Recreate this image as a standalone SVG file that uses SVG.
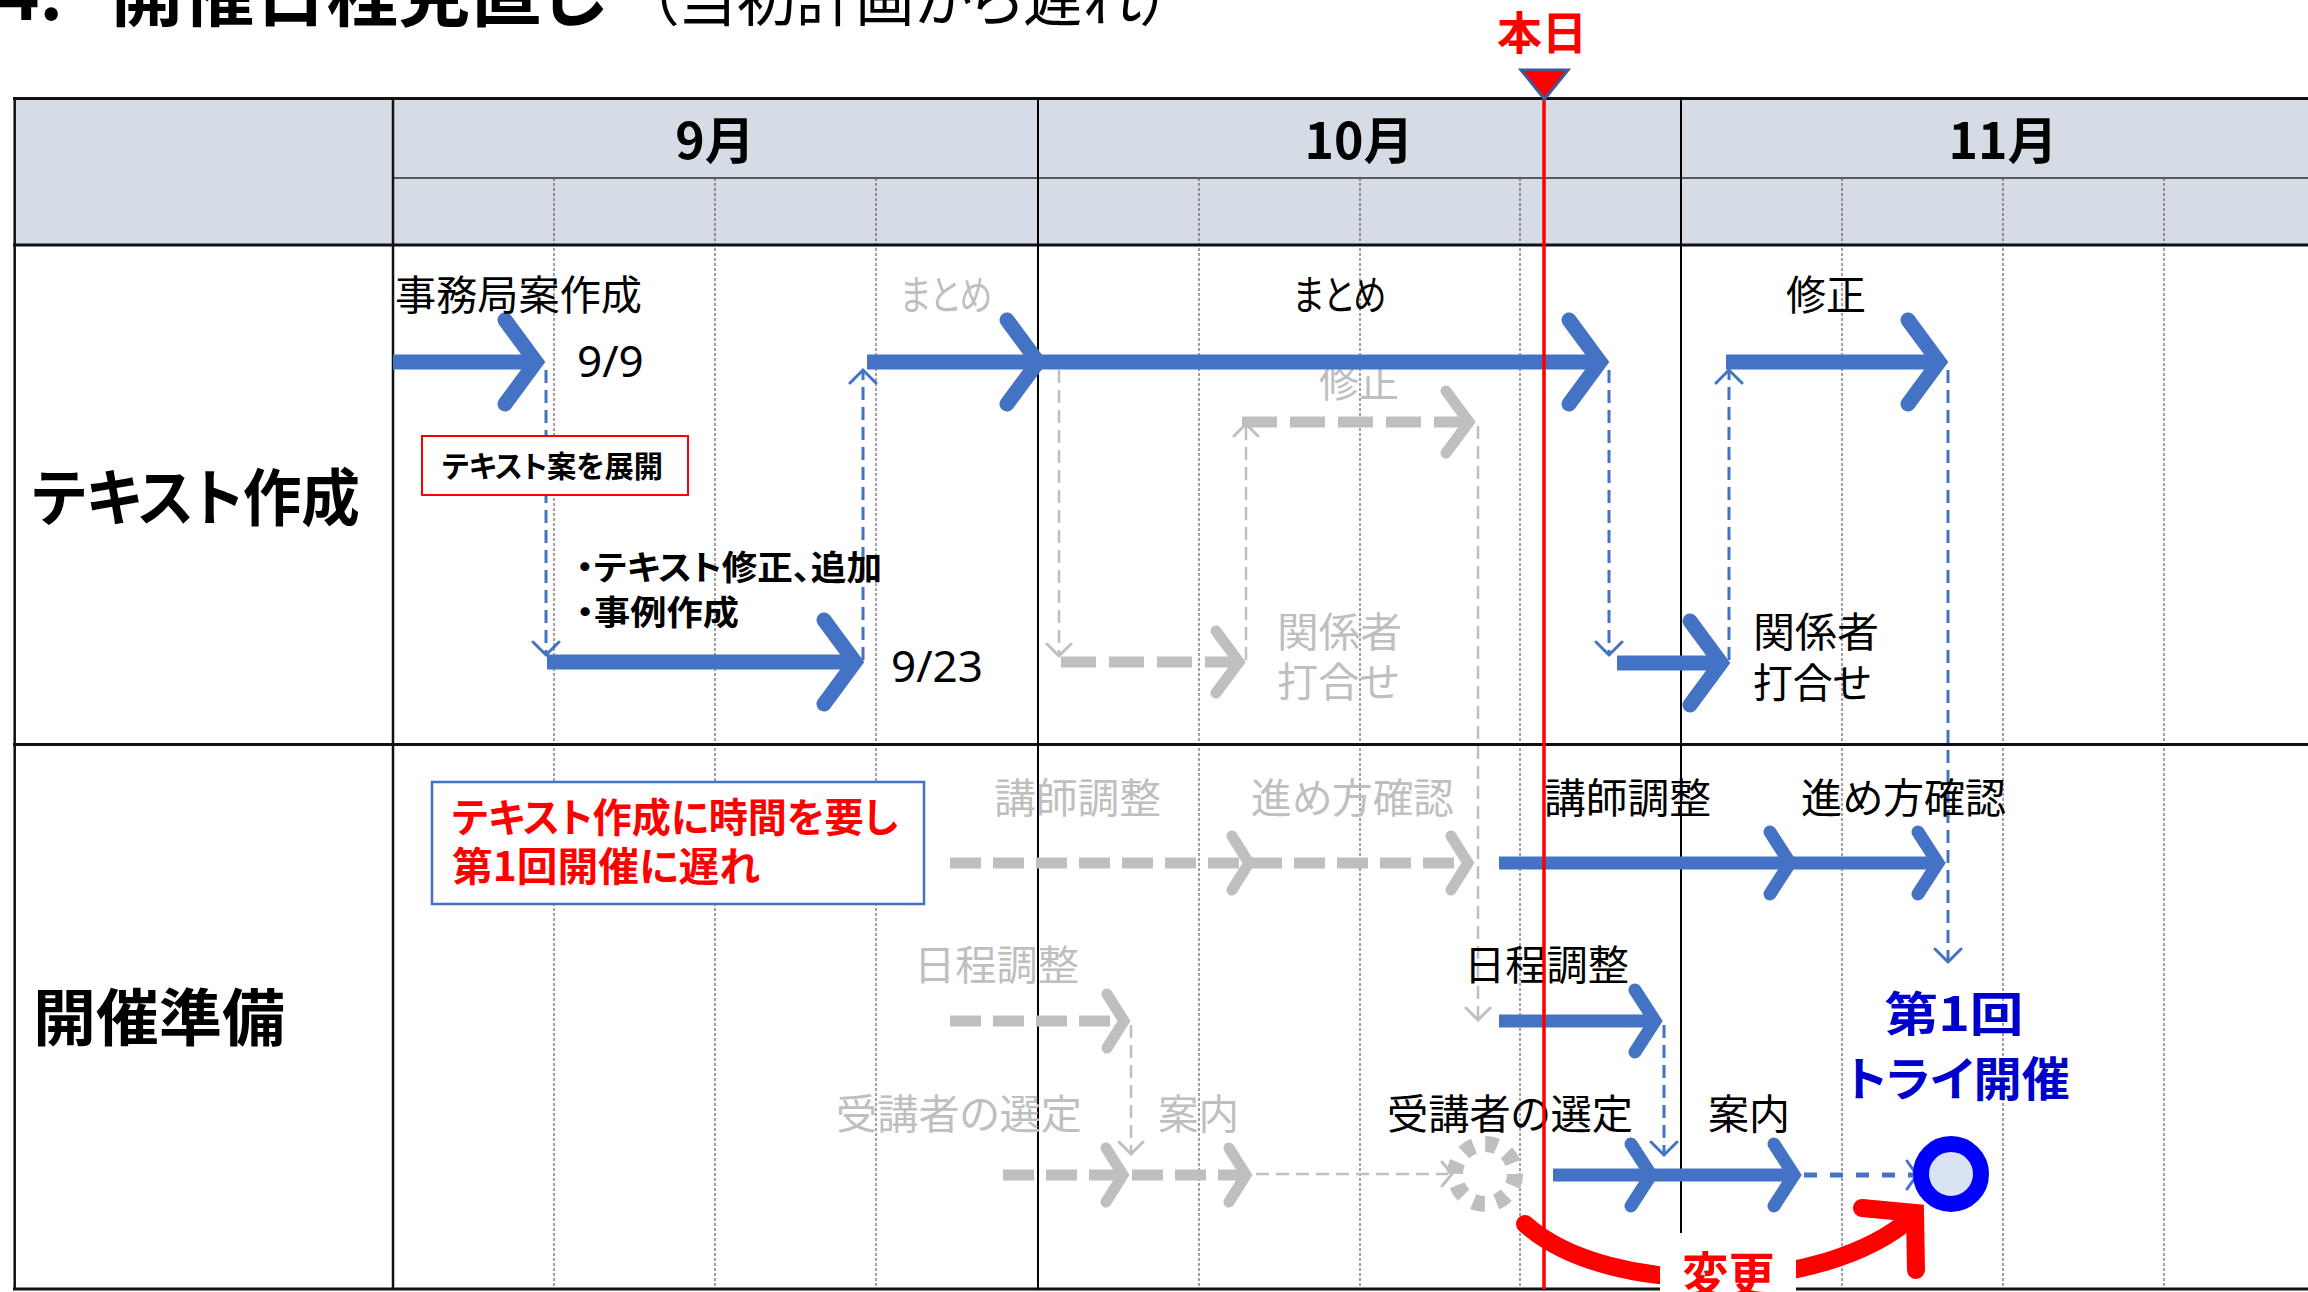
<svg xmlns="http://www.w3.org/2000/svg" width="2308" height="1292" viewBox="0 0 2308 1292">
<style>
.t{font-family:"Noto Sans CJK JP","Noto Sans",sans-serif;font-feature-settings:"palt" 1;}
.n{font-family:"Noto Sans","Noto Sans CJK JP",sans-serif;}
.b{font-weight:700;}
.k{fill:#000;}
.g{fill:#BFBFBF;}
.s41{font-size:41px;}
.wk{stroke:#404040;stroke-width:1;stroke-dasharray:3 2;fill:none;}
.bl{stroke:#4472C4;fill:none;}
.gr{stroke:#BFBFBF;fill:none;}
.ch{stroke-linejoin:miter;stroke-linecap:round;}
.w1{stroke-width:15;}
.w2{stroke-width:13;}
.wg{stroke-width:11;}
.thin{stroke-width:3;stroke-dasharray:13 7;}
.gthin{stroke-width:2.5;stroke-dasharray:13 7;}
.hd{stroke-width:3;stroke-linecap:round;stroke-linejoin:miter;}
</style>
<rect width="2308" height="1292" fill="#fff"/>
<g id="title">
<text class="t b k" x="-3" y="20" font-size="72">4.</text>
<text class="t b k" x="111" y="20" font-size="72" textLength="494" lengthAdjust="spacingAndGlyphs">開催日程見直し</text>
<text class="t k" x="648" y="21" font-size="60" textLength="523" lengthAdjust="spacingAndGlyphs">（当初計画から遅れ）</text>
</g>
<g id="table">
<rect x="14.7" y="98.5" width="2300" height="146.5" fill="#D6DCE5"/>
<g class="wk">
<path d="M554,178V1289M715,178V1289M876,178V1289M1199,178V1289M1360,178V1289M1520,178V1289M1842,178V1289M2003,178V1289M2164,178V1289"/>
</g>
<path d="M393,178H2308" stroke="#595959" stroke-width="2"/>
<path d="M13,98.5H2308M13,245H2308M13,744.5H2308M13,1289H2308" stroke="#111" stroke-width="3"/>
<path d="M14.7,97V1290M393,97V1290" stroke="#111" stroke-width="2.5"/>
<path d="M1038,98V1289M1681,98V1289" stroke="#000" stroke-width="2"/>
<text class="t b k" x="715" y="159" font-size="50" text-anchor="middle">9月</text>
<text class="t b k" x="1359" y="159" font-size="50" text-anchor="middle">10月</text>
<text class="t b k" x="2003" y="159" font-size="50" text-anchor="middle">11月</text>
<text class="t b k" x="32" y="521" font-size="62" textLength="328" lengthAdjust="spacingAndGlyphs">テキスト作成</text>
<text class="t b k" x="33" y="1041" font-size="62" textLength="252" lengthAdjust="spacingAndGlyphs">開催準備</text>
</g>
<g id="plan-original">
<text class="t s41 g" x="900" y="310" textLength="92" lengthAdjust="spacingAndGlyphs">まとめ</text>
<text class="t s41 g" x="1319" y="397" textLength="80" lengthAdjust="spacingAndGlyphs">修正</text>
<text class="t s41 g" x="1277" y="647" textLength="125" lengthAdjust="spacingAndGlyphs">関係者</text>
<text class="t s41 g" x="1277" y="697" textLength="122" lengthAdjust="spacingAndGlyphs">打合せ</text>
<text class="t s41 g" x="994" y="813" textLength="167" lengthAdjust="spacingAndGlyphs">講師調整</text>
<text class="t s41 g" x="1251" y="813" textLength="203" lengthAdjust="spacingAndGlyphs">進め方確認</text>
<text class="t s41 g" x="914" y="980" textLength="165" lengthAdjust="spacingAndGlyphs">日程調整</text>
<text class="t s41 g" x="836" y="1129" textLength="246" lengthAdjust="spacingAndGlyphs">受講者の選定</text>
<text class="t s41 g" x="1158" y="1129" textLength="81" lengthAdjust="spacingAndGlyphs">案内</text>
</g>
<g id="connectors">
<g class="gr">
<path class="gthin" d="M1059,370V654M1246,660V426M1478,426V1018M1131,1025V1152M1256,1174H1448"/>
<path class="hd" stroke-width="2.5" d="M1047,644L1059,656L1071,644M1234,436L1246,424L1258,436M1466,1008L1478,1020L1490,1008M1119,1142L1131,1154L1143,1142M1442,1162L1452,1174L1442,1186"/>
<path class="wg" stroke-dasharray="35 13" d="M1061,662H1236M1242,422H1466"/>
<path class="wg ch" d="M1216,631L1239,662L1216,693M1446,391L1469,422L1446,453"/>
<path class="wg" stroke-dasharray="31 12" d="M950,863H1466M950,1021H1122M1003,1175H1244"/>
<path class="wg ch" d="M1232,836L1249,863L1232,890M1451,836L1468,863L1451,890M1107,994L1124,1021L1107,1048M1106,1148L1123,1175L1106,1202M1229,1148L1246,1175L1229,1202"/>
<circle cx="1485" cy="1174" r="30" stroke-width="16" stroke-dasharray="12 11.56"/>
</g>
<g class="bl">
<path class="thin" d="M546,370V654M863,660V372M1609,370V654M1729,660V372M1948,370V960M1664,1025V1153"/>
<path class="hd" d="M533,642L546,655L559,642M850,383L863,370L876,383M1596,642L1609,655L1622,642M1716,383L1729,370L1742,383M1935,949L1948,962L1961,949M1651,1142L1664,1155L1677,1142"/>
<path stroke-width="5" stroke-dasharray="13 13" d="M1804,1175H1913"/>
<path class="hd" stroke-width="4" d="M1907,1161L1917,1175L1907,1189"/>
<path class="w1" d="M393,362H533M547,662H852M867,362H1597M1617,663H1718M1726,362H1936"/>
<path class="w1 ch" d="M505,320L536,362L505,404M824,620L855,662L824,704M1007,320L1038,362L1007,404M1569,320L1600,362L1569,404M1690,621L1721,663L1690,705M1908,320L1939,362L1908,404"/>
<path class="w2" d="M1499,863H1936M1499,1021H1653M1553,1175H1792"/>
<path class="w2 ch" d="M1770,832L1790,863L1770,894M1918,832L1938,863L1918,894M1635,990L1655,1021L1635,1052M1631,1144L1651,1175L1631,1206M1774,1144L1794,1175L1774,1206"/>
</g>
</g>
<g id="labels-actual">
<text class="t s41 k" x="395" y="310" textLength="247" lengthAdjust="spacingAndGlyphs">事務局案作成</text>
<text class="n k" x="577" y="377" font-size="44">9/9</text>
<text class="n k" x="891" y="682" font-size="44">9/23</text>
<text class="t b k" x="576" y="580" font-size="34" textLength="306" lengthAdjust="spacingAndGlyphs">・テキスト修正、追加</text>
<text class="t b k" x="576" y="625" font-size="34" textLength="163" lengthAdjust="spacingAndGlyphs">・事例作成</text>
<text class="t s41 k" x="1293" y="310" textLength="93" lengthAdjust="spacingAndGlyphs">まとめ</text>
<text class="t s41 k" x="1786" y="310" textLength="80" lengthAdjust="spacingAndGlyphs">修正</text>
<text class="t s41 k" x="1753" y="647" textLength="126" lengthAdjust="spacingAndGlyphs">関係者</text>
<text class="t s41 k" x="1753" y="698" textLength="118" lengthAdjust="spacingAndGlyphs">打合せ</text>
<text class="t s41 k" x="1544" y="813" textLength="167" lengthAdjust="spacingAndGlyphs">講師調整</text>
<text class="t s41 k" x="1801" y="813" textLength="205" lengthAdjust="spacingAndGlyphs">進め方確認</text>
<text class="t s41 k" x="1464" y="980" textLength="165" lengthAdjust="spacingAndGlyphs">日程調整</text>
<text class="t s41 k" x="1387" y="1129" textLength="246" lengthAdjust="spacingAndGlyphs">受講者の選定</text>
<text class="t s41 k" x="1708" y="1129" textLength="82" lengthAdjust="spacingAndGlyphs">案内</text>
</g>
<g id="note-expand">
<rect x="422" y="436" width="266" height="59" fill="#fff" stroke="#FF0000" stroke-width="2"/>
<text class="t b k" x="442" y="477" font-size="30" textLength="221" lengthAdjust="spacingAndGlyphs">テキスト案を展開</text>
</g>
<g id="note-delay">
<rect x="432" y="782" width="492" height="122" fill="#fff" stroke="#4472C4" stroke-width="2.5"/>
<text class="t b" fill="#FF0000" x="452" y="832" font-size="40" textLength="446" lengthAdjust="spacingAndGlyphs">テキスト作成に時間を要し</text>
<text class="t b" fill="#FF0000" x="452" y="881" font-size="40" textLength="308" lengthAdjust="spacingAndGlyphs">第1回開催に遅れ</text>
</g>
<g id="milestone">
<circle cx="1951" cy="1174" r="30" fill="#DAE3F3" stroke="#0000FF" stroke-width="16"/>
<text class="t b" fill="#0000CC" x="1954" y="1031" font-size="47" text-anchor="middle" textLength="139" lengthAdjust="spacingAndGlyphs">第1回</text>
<text class="t b" fill="#0000CC" x="1958" y="1096" font-size="47" text-anchor="middle" textLength="224" lengthAdjust="spacingAndGlyphs">トライ開催</text>
</g>
<g id="today">
<path d="M1544,99V1289" stroke="#FF0000" stroke-width="3.5"/>
<path d="M1521,70H1568L1544.5,99Z" fill="#FF0000" stroke="#3E5A99" stroke-width="3" stroke-linejoin="miter"/>
<text class="t b" fill="#FF0000" x="1542" y="50" font-size="45" text-anchor="middle">本日</text>
</g>
<g id="change">
<path d="M1525,1224C1610,1300 1826,1294 1912,1217" fill="none" stroke="#FF0000" stroke-width="18" stroke-linecap="round"/>
<path d="M1862,1208L1915,1213L1916,1270" fill="none" stroke="#FF0000" stroke-width="18" stroke-linecap="round" stroke-linejoin="miter"/>
<rect x="1660" y="1233" width="136" height="60" fill="#fff"/>
<text class="t b" fill="#FF0000" x="1682" y="1294" font-size="50" textLength="93" lengthAdjust="spacingAndGlyphs">変更</text>
</g>
</svg>
